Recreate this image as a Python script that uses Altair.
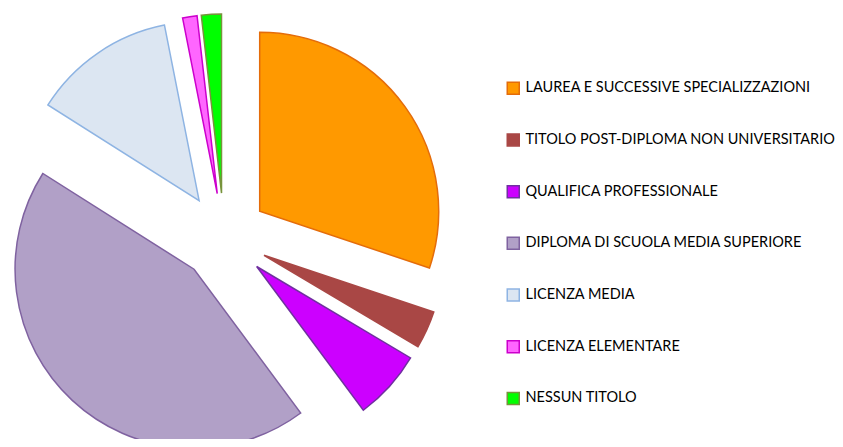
import altair as alt
import pandas as pd

categories = [
    "Laurea e successive specializzazioni",
    "Titolo post-diploma non universitario",
    "Qualifica Professionale",
    "Diploma di Scuola Media Superiore",
    "Licenza Media",
    "Licenza Elementare",
    "Nessun Titolo",
]
values = [30.1, 3.4, 6.3, 44.1, 12.9, 1.3, 1.8]
order = [0, 1, 2, 3, 4, 5, 6]
fills = ["#FF9900", "#A94745", "#CC00FF", "#B1A0C7", "#DCE6F2", "#FF66FF", "#00FF00"]
strokes = ["#E46C0A", "#A94745", "#7030A0", "#7F62A0", "#8EB4E3", "#CC00CC", "#77933C"]

df = pd.DataFrame({"cat": categories, "value": values, "idx": order})

CX, CY, R, EXPLODE = 216, 229, 179, 44

legend = alt.Legend(
    orient="none", legendX=498, legendY=73, title=None, padding=0,
    symbolType="square", symbolSize=144, symbolStrokeWidth=1.5,
    labelFont="Lato", labelFontSize=14.5, labelColor="#000000",
    labelOffset=5, rowPadding=32.7, labelLimit=400,
    labelExpr="upper(datum.label)",
)

chart = (
    alt.Chart(df)
    .transform_joinaggregate(total="sum(value)")
    .transform_window(cum="sum(value)", sort=[alt.SortField("idx")])
    .transform_calculate(
        t1="2*PI*datum.cum/datum.total",
        t0="2*PI*(datum.cum-datum.value)/datum.total",
    )
    .transform_calculate(mid="(datum.t0+datum.t1)/2")
    .transform_calculate(
        cx=f"{CX}+{EXPLODE}*sin(datum.mid)",
        cy=f"{CY}-{EXPLODE}*cos(datum.mid)",
    )
    .mark_arc(outerRadius=R, strokeWidth=1.5, strokeJoin="miter")
    .encode(
        x=alt.X("cx:Q", scale=None, axis=None),
        y=alt.Y("cy:Q", scale=None, axis=None),
        theta=alt.Theta("t0:Q", scale=None),
        theta2="t1:Q",
        fill=alt.Fill("cat:N", scale=alt.Scale(domain=categories, range=fills), legend=legend),
        stroke=alt.Stroke("cat:N", scale=alt.Scale(domain=categories, range=strokes), legend=legend),
        order=alt.Order("idx:Q"),
    )
    .properties(width=827, height=431, autosize="none", padding=0)
    .configure_view(stroke=None)
)

chart.save("out.html", embed_options={"renderer": "svg", "actions": False})
